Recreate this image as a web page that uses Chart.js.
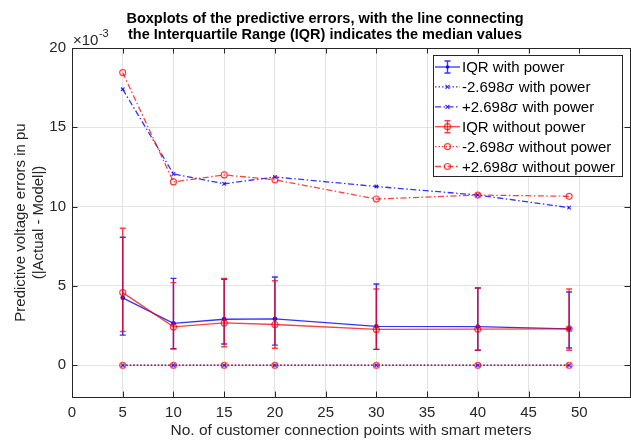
<!DOCTYPE html>
<html>
<head>
<meta charset="utf-8">
<script src="https://cdn.jsdelivr.net/npm/chart.js@4.4.0/dist/chart.umd.min.js"></script>
<style>
  html, body { margin: 0; padding: 0; background: #fff; }
  #wrap { width: 631px; height: 440px; }
</style>
</head>
<body>
<div id="wrap"><canvas id="errChart"></canvas></div>
<script>
// x values: number of customer connection points with smart meters
const customerPoints = [5, 10, 15, 20, 30, 40, 49];

// with power (values in units of 1e-3 pu)
const medianWithPower = [4.25, 2.64, 2.90, 2.93, 2.45, 2.43, 2.30];
const q1WithPower = [1.90, 1.04, 1.34, 1.27, 1.00, 0.95, 1.09];
const q3WithPower = [8.07, 5.48, 5.42, 5.56, 5.12, 4.87, 4.62];
const lowSigmaWithPower = [0, 0, 0, 0, 0, 0, 0];
const highSigmaWithPower = [17.40, 12.06, 11.44, 11.87, 11.27, 10.73, 9.94];

// without power
const medianNoPower = [4.58, 2.42, 2.67, 2.57, 2.26, 2.28, 2.30];
const q1NoPower = [2.13, 1.04, 1.17, 1.07, 1.00, 0.95, 0.95];
const q3NoPower = [8.64, 5.21, 5.48, 5.33, 4.81, 4.87, 4.81];
const lowSigmaNoPower = [0, 0, 0, 0, 0, 0, 0];
const highSigmaNoPower = [18.45, 11.56, 12.00, 11.69, 10.48, 10.73, 10.65];

const xTicks = [0, 5, 10, 15, 20, 25, 30, 35, 40, 45, 50, 55];
const yTicks = [0, 5, 10, 15, 20];

const titleLines = [
    'Boxplots of the predictive errors, with the line connecting',
    'the Interquartile Range (IQR) indicates the median values'
];

const fontFamily = '"Liberation Sans", Arial, Helvetica, sans-serif';
const axisColor = '#262626';
const blue = 'rgba(0, 0, 255, 0.8)';
const red = 'rgba(255, 0, 0, 0.75)';
const dotted = [1.5, 2];
const dashDot = [6, 2.5, 1.5, 2.5];

function xy(values) {
    return customerPoints.map((x, i) => ({ x: x, y: values[i] }));
}

function drawMarker(ctx, style, color, x, y) {
    ctx.save();
    ctx.setLineDash([]);
    ctx.strokeStyle = color;
    ctx.fillStyle = color;
    ctx.lineWidth = 1.2;
    if (style === 'dot') {
        ctx.beginPath();
        ctx.arc(x, y, 1.8, 0, Math.PI * 2);
        ctx.fill();
    } else if (style === 'x') {
        ctx.beginPath();
        ctx.moveTo(x - 2, y - 2); ctx.lineTo(x + 2, y + 2);
        ctx.moveTo(x - 2, y + 2); ctx.lineTo(x + 2, y - 2);
        ctx.stroke();
    } else {
        ctx.beginPath();
        ctx.arc(x, y, 3, 0, Math.PI * 2);
        ctx.stroke();
    }
    ctx.restore();
}

function makeSet(label, values, color, dash, marker, order, extra) {
    return Object.assign({
        label: label,
        data: xy(values),
        borderColor: color,
        backgroundColor: marker === 'o' ? 'rgba(255,255,255,0)' : color,
        borderWidth: 1.3,
        borderDash: dash,
        pointStyle: marker === 'x' ? 'crossRot' : 'circle',
        pointRadius: marker === 'dot' ? 1.8 : (marker === 'x' ? 2.5 : 3),
        pointBorderWidth: 1.2,
        pointHoverRadius: 0,
        tension: 0,
        order: order,
        marker: marker
    }, extra || {});
}

const datasets = [
    makeSet('IQR with power', medianWithPower, blue, [], 'dot', 1, { errLow: q1WithPower, errHigh: q3WithPower }),
    makeSet('-2.698σ with power', lowSigmaWithPower, blue, dotted, 'x', 1),
    makeSet('+2.698σ with power', highSigmaWithPower, blue, dashDot, 'x', 1),
    makeSet('IQR without power', medianNoPower, red, [], 'o', 0, { errLow: q1NoPower, errHigh: q3NoPower }),
    makeSet('-2.698σ without power', lowSigmaNoPower, red, dotted, 'o', 0),
    makeSet('+2.698σ without power', highSigmaNoPower, red, dashDot, 'o', 0)
];

// error bars for the IQR series, drawn right after their own line
const errorBars = {
    id: 'errorBars',
    afterDatasetDraw(chart, args) {
        const ds = chart.data.datasets[args.index];
        if (!ds.errLow) return;
        const ctx = chart.ctx;
        const yScale = chart.scales.y;
        ctx.save();
        ctx.strokeStyle = ds.borderColor;
        ctx.lineWidth = 1.4;
        args.meta.data.forEach((pt, i) => {
            const lo = yScale.getPixelForValue(ds.errLow[i]);
            const hi = yScale.getPixelForValue(ds.errHigh[i]);
            ctx.beginPath();
            ctx.moveTo(pt.x, lo); ctx.lineTo(pt.x, hi);
            ctx.moveTo(pt.x - 3, lo); ctx.lineTo(pt.x + 3, lo);
            ctx.moveTo(pt.x - 3, hi); ctx.lineTo(pt.x + 3, hi);
            ctx.stroke();
        });
        ctx.restore();
    }
};

// box, inward ticks, title, exponent label and legend
const frame = {
    id: 'frame',
    afterDraw(chart) {
        const ctx = chart.ctx;
        const a = chart.chartArea;
        const xs = chart.scales.x, ys = chart.scales.y;
        ctx.save();
        ctx.strokeStyle = axisColor;
        ctx.lineWidth = 1;
        ctx.strokeRect(Math.round(a.left) + 0.5, Math.round(a.top) + 0.5,
            Math.round(a.right - a.left), Math.round(a.bottom - a.top));
        ctx.beginPath();
        xTicks.forEach(v => {
            const px = Math.round(xs.getPixelForValue(v)) + 0.5;
            ctx.moveTo(px, a.bottom); ctx.lineTo(px, a.bottom - 5.5);
            ctx.moveTo(px, a.top); ctx.lineTo(px, a.top + 5.5);
        });
        yTicks.forEach(v => {
            const py = Math.round(ys.getPixelForValue(v)) + 0.5;
            ctx.moveTo(a.left, py); ctx.lineTo(a.left + 5.5, py);
            ctx.moveTo(a.right, py); ctx.lineTo(a.right - 5.5, py);
        });
        ctx.stroke();

        // title
        ctx.fillStyle = '#000';
        ctx.font = 'bold 14.5px ' + fontFamily;
        ctx.textAlign = 'center';
        ctx.textBaseline = 'alphabetic';
        ctx.fillText(titleLines[0], 325, 22.5);
        ctx.fillText(titleLines[1], 325, 38.5);

        // exponent
        ctx.fillStyle = axisColor;
        ctx.textAlign = 'left';
        ctx.font = '15px ' + fontFamily;
        ctx.fillText('×10', 73, 44.5);
        const w = ctx.measureText('×10').width;
        ctx.font = '11px ' + fontFamily;
        ctx.fillText('-3', 73 + w + 0.5, 37);

        // legend
        const lx = 433, ly = 55, lw = 189, lh = 121;
        ctx.fillStyle = '#fff';
        ctx.fillRect(lx, ly, lw, lh);
        ctx.strokeStyle = axisColor;
        ctx.strokeRect(lx + 0.5, ly + 0.5, lw, lh);
        chart.data.datasets.forEach((ds, i) => {
            const cy = ly + 12 + i * 19.9;
            ctx.save();
            ctx.strokeStyle = ds.borderColor;
            ctx.lineWidth = 1.3;
            ctx.setLineDash(ds.borderDash);
            ctx.beginPath();
            ctx.moveTo(lx + 2, cy); ctx.lineTo(lx + 27, cy);
            ctx.stroke();
            ctx.setLineDash([]);
            if (ds.errLow) {
                ctx.lineWidth = 1.4;
                ctx.beginPath();
                ctx.moveTo(lx + 14.5, cy - 6); ctx.lineTo(lx + 14.5, cy + 6);
                ctx.moveTo(lx + 11.5, cy - 6); ctx.lineTo(lx + 17.5, cy - 6);
                ctx.moveTo(lx + 11.5, cy + 6); ctx.lineTo(lx + 17.5, cy + 6);
                ctx.stroke();
            }
            ctx.restore();
            drawMarker(ctx, ds.marker, ds.borderColor, lx + 14.5, cy);

            // label text, sigma in italics
            ctx.fillStyle = '#000';
            ctx.textBaseline = 'middle';
            let tx = lx + 29;
            const parts = ds.label.split('σ');
            parts.forEach((p, k) => {
                ctx.font = '15px ' + fontFamily;
                ctx.fillText(p, tx, cy + 1);
                tx += ctx.measureText(p).width;
                if (k < parts.length - 1) {
                    ctx.font = 'italic 15px ' + fontFamily;
                    ctx.fillText('σ', tx, cy + 1);
                    tx += ctx.measureText('σ').width + 1;
                }
            });
        });
        ctx.restore();
    }
};

const ctx = document.getElementById('errChart').getContext('2d');
new Chart(ctx, {
    type: 'line',
    data: { datasets: datasets },
    plugins: [errorBars, frame],
    options: {
        responsive: true,
        maintainAspectRatio: false,
        animation: false,
        layout: { autoPadding: false, padding: { top: 48, right: 1, left: 0, bottom: 0 } },
        plugins: {
            legend: { display: false },
            tooltip: { enabled: false }
        },
        scales: {
            x: {
                type: 'linear',
                min: 0,
                max: 55,
                afterBuildTicks: axis => { axis.ticks = xTicks.map(v => ({ value: v })); },
                afterFit: axis => {
                    axis.height = 43;
                    axis.paddingLeft = 0;
                    axis.paddingRight = 0;
                },
                ticks: {
                    color: axisColor,
                    font: { family: fontFamily, size: 15 },
                    padding: 7,
                    maxRotation: 0,
                    callback: v => (v === 55 ? '' : String(v))
                },
                grid: { color: '#e3e3e3', drawTicks: false },
                border: { display: true, color: axisColor },
                title: {
                    display: true,
                    text: 'No. of customer connection points with smart meters',
                    color: axisColor,
                    font: { family: fontFamily, size: 15.5 },
                    padding: { top: 0, bottom: 0 }
                }
            },
            y: {
                min: -2,
                max: 20,
                afterBuildTicks: axis => { axis.ticks = yTicks.map(v => ({ value: v })); },
                afterFit: axis => { axis.width = 72; },
                ticks: {
                    color: axisColor,
                    font: { family: fontFamily, size: 15 },
                    padding: 6,
                    callback: v => String(v)
                },
                grid: { color: '#e3e3e3', drawTicks: false },
                border: { display: true, color: axisColor },
                title: {
                    display: true,
                    text: ['Predictive voltage errors in pu', '(|Actual - Model|)'],
                    color: axisColor,
                    font: { family: fontFamily, size: 15 },
                    padding: { top: 12, bottom: 0 }
                }
            }
        }
    }
});
</script>
</body>
</html>
